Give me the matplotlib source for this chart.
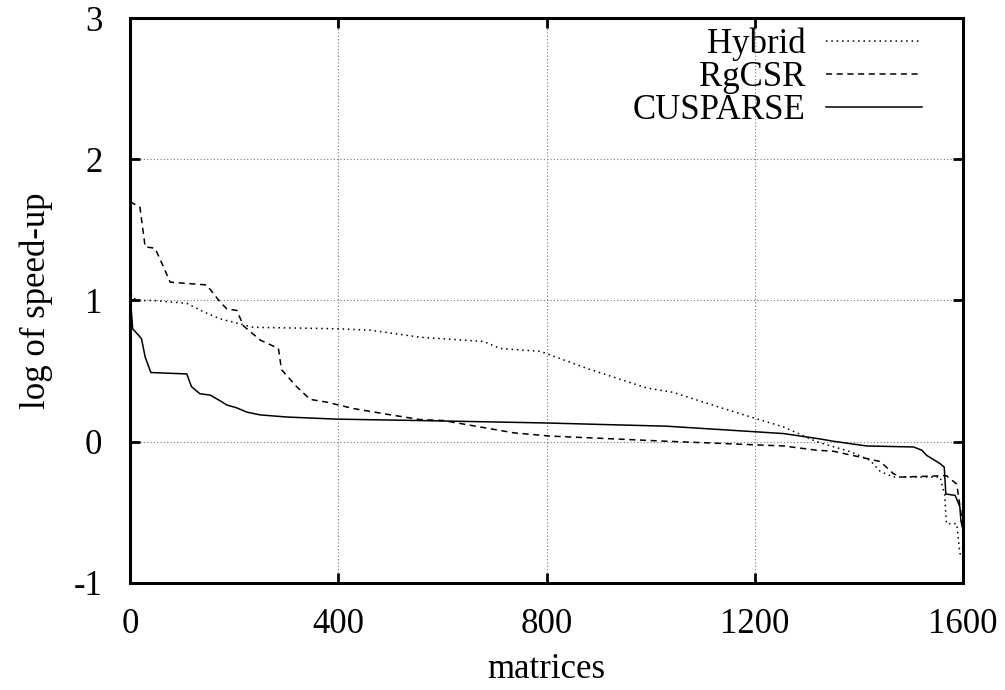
import numpy as np
import matplotlib.pyplot as plt

plt.rcParams['font.family'] = ['Liberation Serif', 'DejaVu Serif']
plt.rcParams['axes.unicode_minus'] = False

# Hybrid
hyb_x = [0, 3, 13, 45, 109, 141, 173, 205, 237, 397, 461, 519, 557, 679, 711, 788,
         877, 935, 993, 1043, 1127, 1197, 1255, 1319, 1383, 1421, 1441, 1466, 1556,
         1565, 1568, 1588, 1594, 1600]
hyb_y = [1.12, 1.03, 1.0, 1.0, 0.98, 0.92, 0.87, 0.84, 0.81, 0.80, 0.79, 0.76, 0.74,
         0.71, 0.66, 0.64, 0.52, 0.45, 0.38, 0.35, 0.25, 0.17, 0.105, 0.0, -0.07, -0.13,
         -0.21, -0.25, -0.25, -0.38, -0.58, -0.58, -0.79, -0.82]

# RgCSR
rg_x = [0, 19, 29, 48, 64, 77, 147, 173, 186, 205, 218, 250, 285, 291, 320, 346, 378,
        429, 493, 557, 602, 737, 807, 1031, 1255, 1319, 1351, 1441, 1466, 1480, 1568,
        1588, 1596, 1600]
rg_y = [1.70, 1.66, 1.38, 1.37, 1.24, 1.13, 1.11, 0.99, 0.94, 0.93, 0.82, 0.72, 0.66,
        0.51, 0.39, 0.30, 0.28, 0.235, 0.195, 0.157, 0.15, 0.063, 0.04, 0.0035, -0.03,
        -0.06, -0.067, -0.14, -0.225, -0.25, -0.24, -0.30, -0.5, -0.65]

# CUSPARSE
cu_x = [0, 2, 5, 22, 29, 40, 109, 118, 134, 154, 173, 186, 205, 224, 250, 301, 397,
        557, 797, 1031, 1255, 1325, 1351, 1415, 1505, 1521, 1530, 1556, 1564, 1567,
        1585, 1594, 1596, 1600]
cu_y = [1.0, 0.95, 0.80, 0.73, 0.60, 0.49, 0.48, 0.39, 0.34, 0.33, 0.29, 0.26, 0.24,
        0.21, 0.19, 0.175, 0.16, 0.15, 0.133, 0.11, 0.058, 0.02, 0.0035, -0.03, -0.037,
        -0.06, -0.096, -0.155, -0.18, -0.37, -0.38, -0.46, -0.56, -0.62]

fig = plt.figure(figsize=(10.05, 6.9), dpi=100)
ax = fig.add_axes([0.1294, 0.1551, 0.8288, 0.8188])

ax.plot(hyb_x, hyb_y, color='black', lw=1.1, linestyle=(0, (1, 2.5)), label='Hybrid')
ax.plot(rg_x, rg_y, color='black', lw=1.1, linestyle=(0, (4, 3)), label='RgCSR')
ax.plot(cu_x, cu_y, color='black', lw=1.1, linestyle='-', label='CUSPARSE')

ax.set_xlim(0, 1600)
ax.set_ylim(-1, 3)
ax.set_xticks([0, 400, 800, 1200, 1600])
ax.set_yticks([-1, 0, 1, 2, 3])
ax.grid(True, color='#777777', linestyle=(0, (1, 2)), lw=0.8)

for s in ax.spines.values():
    s.set_linewidth(2.2)
ax.tick_params(direction='in', length=7, width=2, top=True, right=True,
               labelsize=25)
ax.tick_params(axis='x', pad=18)
ax.tick_params(axis='y', pad=20)
ax.set_xlabel('matrices', fontsize=25, labelpad=9)
ax.set_ylabel('log of speed-up', fontsize=25, labelpad=15)

ax.legend(loc='upper right', bbox_to_anchor=(0.967, 1.008), frameon=False,
          markerfirst=False, fontsize=25, handlelength=2.75, handletextpad=0.6,
          labelspacing=0.0, borderaxespad=0)

fig.savefig('out.png', dpi=100)
